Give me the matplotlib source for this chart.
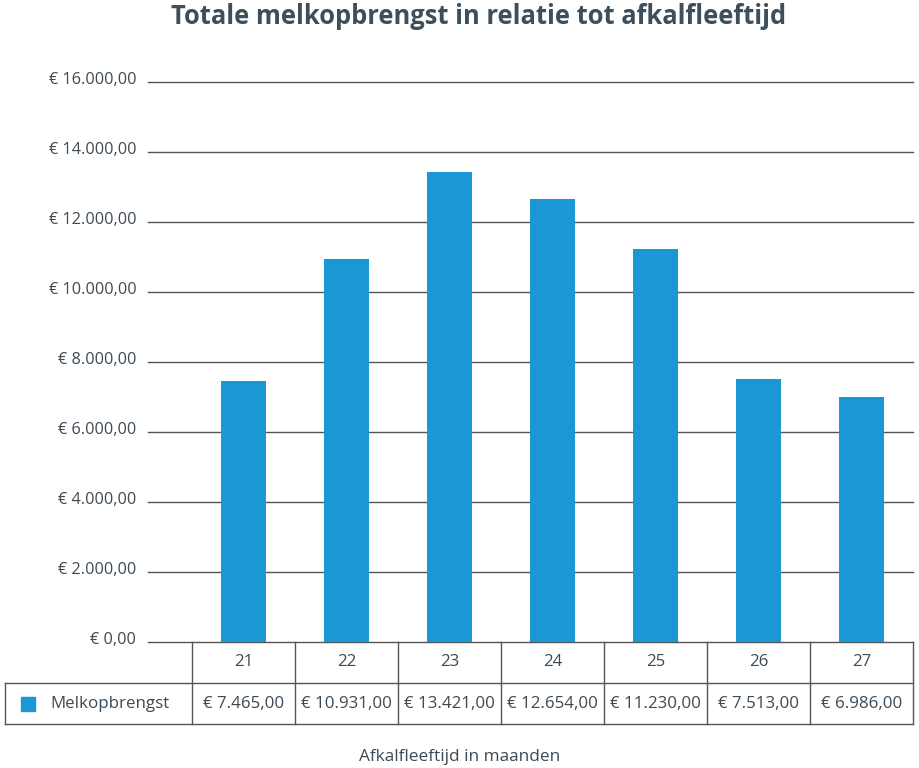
import matplotlib.pyplot as plt
import matplotlib.transforms as mtransforms
import numpy as np

plt.rcParams['font.family'] = ['Open Sans', 'DejaVu Sans']

maanden = ['21', '22', '23', '24', '25', '26', '27']
melkopbrengst = [7465, 10931, 13421, 12654, 11230, 7513, 6986]
melk_labels = ['€ 7.465,00', '€ 10.931,00', '€ 13.421,00', '€ 12.654,00',
               '€ 11.230,00', '€ 7.513,00', '€ 6.986,00']
y_ticks = [0, 2000, 4000, 6000, 8000, 10000, 12000, 14000, 16000]
y_tick_labels = ['€ 0,00', '€ 2.000,00', '€ 4.000,00', '€ 6.000,00', '€ 8.000,00',
                 '€ 10.000,00', '€ 12.000,00', '€ 14.000,00', '€ 16.000,00']

blauw = '#1a98d5'
tekst = '#3c4a55'
lijn = '#555555'
fs = 12.2

fig = plt.figure(figsize=(9.2, 7.68), dpi=100)
ax = fig.add_axes([148 / 920, 1 - 642 / 768, 765 / 920, 560 / 768])

x = np.arange(len(maanden))
ax.bar(x, melkopbrengst, width=0.43, color=blauw, zorder=3)

ax.set_ylim(0, 16000)
ax.set_xlim(-0.927, 6.5)
ax.set_yticks(y_ticks)
ax.set_yticklabels(y_tick_labels, fontsize=11.7, color=tekst)
ax.tick_params(axis='y', length=0, pad=8.5)
# labels iets boven de rasterlijn, zoals in het origineel
omhoog = mtransforms.ScaledTranslation(0, 4 / 100, fig.dpi_scale_trans)
for t in ax.get_yticklabels():
    t.set_transform(t.get_transform() + omhoog)
ax.set_xticks([])
for s in ax.spines.values():
    s.set_visible(False)
ax.yaxis.grid(True, color=lijn, linewidth=1)
for gl in ax.get_ygridlines():
    gl.set_clip_on(False)
ax.set_axisbelow(True)

# tabel onder de grafiek
trans = mtransforms.blended_transform_factory(ax.transData, ax.transAxes)
rij = 41 / 560
links = -2.316
rechts = len(maanden) - 0.5
kw = dict(transform=trans, color=lijn, linewidth=1, clip_on=False)
ax.plot([links, rechts], [-rij, -rij], **kw)
ax.plot([links, rechts], [-2 * rij, -2 * rij], **kw)
ax.plot([links, links], [-rij, -2 * rij], **kw)
for i in range(len(maanden) + 1):
    ax.plot([i - 0.5, i - 0.5], [0, -2 * rij], **kw)

for i, (m, lab) in enumerate(zip(maanden, melk_labels)):
    ax.text(i, -0.5 * rij, m, transform=trans, ha='center', va='center',
            fontsize=fs, color=tekst)
    ax.text(i, -1.5 * rij, lab, transform=trans, ha='center', va='center',
            fontsize=fs, color=tekst)

fig.patches.append(plt.Rectangle((21 / 920, 1 - 711 / 768), 14 / 920, 14 / 768,
                                 transform=fig.transFigure, color=blauw))
fig.text(50 / 920, 1 - 704 / 768, 'Melkopbrengst', ha='left', va='center',
         fontsize=fs, color=tekst)

fig.text(460 / 920, 1 - 757 / 768, 'Afkalfleeftijd in maanden', ha='center',
         va='center', fontsize=12.4, color=tekst)
fig.text(479 / 920, 1 - 17 / 768, 'Totale melkopbrengst in relatie tot afkalfleeftijd',
         ha='center', va='center', fontsize=18.4, fontweight='bold', color='#3e4f5c')

fig.savefig('out.png', dpi=100)
